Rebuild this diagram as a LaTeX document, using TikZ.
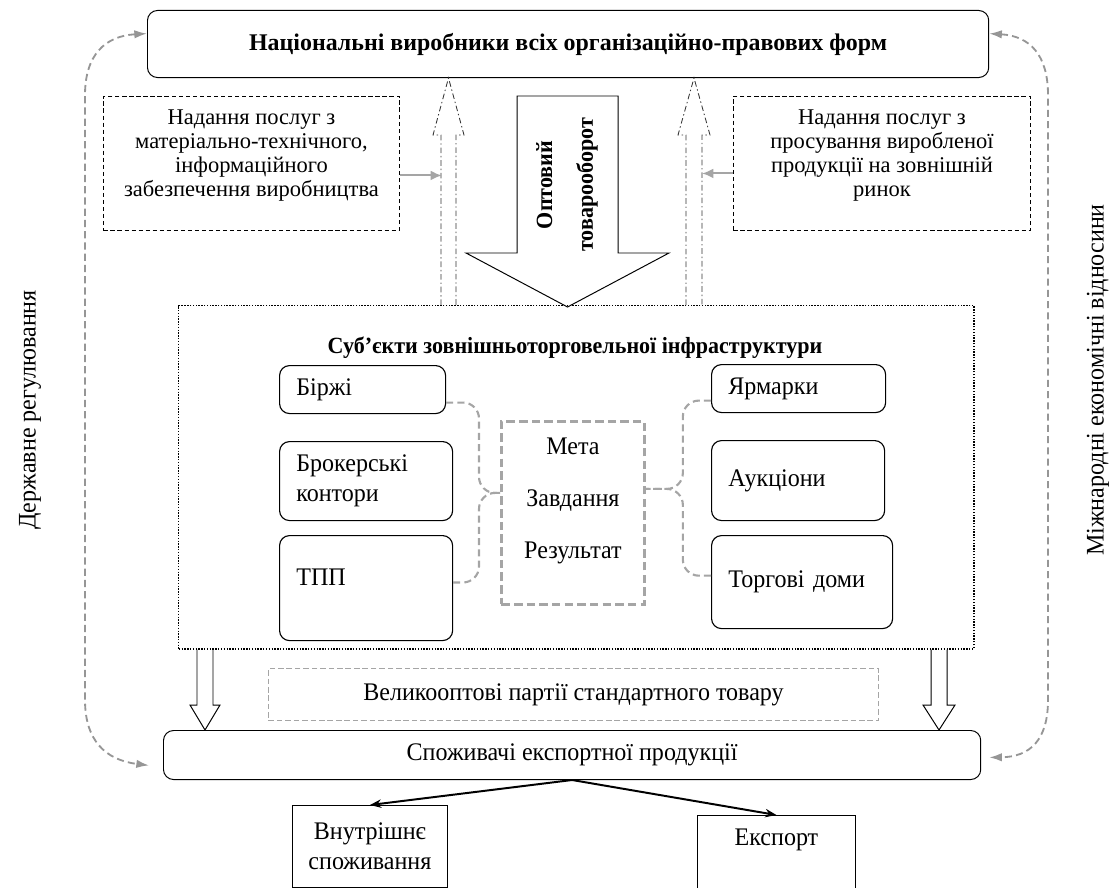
\documentclass[tikz,border=0pt]{standalone}
\usepackage{fontspec}
\setmainfont{Liberation Serif}
\newfontfamily\narrowfont[FakeStretch=0.95]{Liberation Serif}
\usetikzlibrary{arrows.meta}
\definecolor{linkgrey}{RGB}{165,165,165}
\definecolor{sidegrey}{RGB}{150,150,150}
\newcommand{\cellfont}{\narrowfont\fontsize{18}{21}\selectfont}
\tikzstyle{frame} = [rectangle, rounded corners=0.25cm, draw=black, line width=0.7pt, inner sep=0pt, anchor=north west]
\tikzstyle{service} = [rectangle, draw=black, dash pattern=on 3pt off 2pt, line width=0.6pt, anchor=north west, align=center, inner sep=0pt, font=\fontsize{16}{17}\selectfont]
\tikzstyle{entity} = [rectangle, rounded corners=0.25cm, draw=black, line width=0.8pt, anchor=north west, align=left, inner xsep=0.42cm, inner ysep=0pt, font=\cellfont]
\tikzstyle{plainbox} = [rectangle, draw=black, line width=0.6pt, anchor=north west, align=center, inner sep=0pt, font=\cellfont]
\tikzstyle{link} = [draw=linkgrey, line width=1.5pt, dash pattern=on 5pt off 3pt, rounded corners=0.4cm]
\tikzstyle{dashdot} = [draw=black!80, line width=0.6pt, dash pattern=on 4pt off 2pt on 1pt off 2pt]
\tikzstyle{hollow} = [draw=black, line width=0.7pt]
\tikzstyle{greyarrow} = [draw=linkgrey, line width=1.5pt, -{Latex[length=8pt,width=7pt]}]
\tikzstyle{sidearc} = [draw=sidegrey, line width=1.3pt, dash pattern=on 5pt off 3pt, {Latex[length=9pt,width=6pt]}-{Latex[length=9pt,width=6pt]}]
\tikzstyle{arrow} = [line width=1.4pt, -{Stealth[length=8pt,width=6pt]}]

\begin{document}
\begin{tikzpicture}[x=0.025cm, y=-0.025cm]
\useasboundingbox (0,0) rectangle (1115,887);
\clip (0,0) rectangle (1115,887);

% producers and services
\node (ntop) [frame, minimum width=21.025cm, minimum height=1.675cm, font=\bfseries\fontsize{17}{20}\selectfont] at (147,10) {Національні виробники всіх організаційно-правових форм};
\node (lserv) [service, minimum width=7.4cm, minimum height=3.35cm] at (103,96) {Надання послуг з\\матеріально-технічного,\\інформаційного\\забезпечення виробництва\\[-2pt]\mbox{}};
\node (rserv) [service, minimum width=7.425cm, minimum height=3.35cm] at (733,96) {Надання послуг з\\просування виробленої\\продукції на зовнішній\\ринок\\[-2pt]\mbox{}};

% wholesale turnover
\draw[hollow] (517,96) -- (618,96) -- (618,253) -- (669,253) -- (567.5,307) -- (466,253) -- (517,253) -- cycle;
\node (flow) [rotate=90, align=center, font=\narrowfont\bfseries\fontsize{16.5}{29}\selectfont] at (567,185) {Оптовий\\товарооборот};

% infrastructure
\node (infra) [rectangle, draw=black, line width=1pt, dash pattern=on 1pt off 1pt, minimum width=19.875cm, minimum height=8.575cm, anchor=north west, inner sep=0pt] at (178,305) {};
\node (infratitle) [font=\narrowfont\bfseries\fontsize{16.5}{19}\selectfont] at (575,348) {Суб’єкти зовнішньоторговельної інфраструктури};

\draw[dashdot] (441,0 |- infra.north) -- (441,135) -- (433,135) -- (448.5,0 |- ntop.south) -- (464,135) -- (456,135) -- (456,0 |- infra.north);
\draw[dashdot] (686,0 |- infra.north) -- (686,135) -- (678,135) -- (694,0 |- ntop.south) -- (710,135) -- (702,135) -- (702,0 |- infra.north);
\draw[greyarrow] ([yshift=-0.3cm]lserv.east) -- ++(42,0);
\draw[greyarrow] ([yshift=-0.25cm]rserv.west) -- ++(-31,0);

\node (birzhi) [entity, text width=3.31cm, minimum height=1.2cm] at (279,365) {Біржі};
\node (broker) [entity, text width=3.485cm, minimum height=1.975cm] at (279,441) {Брокерські\\контори};
\node (tpp) [entity, text width=3.485cm, minimum height=2.625cm] at (279,535) {ТПП\\[-5pt]\mbox{}};
\node (yarm) [entity, text width=3.51cm, minimum height=1.2cm] at (711,364) {Ярмарки};
\node (auk) [entity, text width=3.485cm, minimum height=2cm] at (711,440) {Аукціони};
\node (torg) [entity, text width=3.685cm, minimum height=2.325cm] at (711,535) {Торгові доми};

\node (goal) [rectangle, draw=linkgrey, line width=2pt, dash pattern=on 6pt off 3pt, minimum width=3.575cm, minimum height=4.575cm, anchor=north west, align=center, inner sep=0pt, font=\narrowfont\fontsize{18}{37}\selectfont] at (500,420) {Мета\\Завдання\\Результат\\[-16pt]\mbox{}};

\draw[link] ([yshift=-0.325cm]birzhi.east) -| ([xshift=-0.525cm,yshift=0.5cm]goal.west) -- ([yshift=0.5cm]goal.west);
\draw[link] ([yshift=0.14cm]tpp.east) -| ([xshift=-0.525cm,yshift=0.5cm]goal.west) -- ([yshift=0.5cm]goal.west);
\draw[link] ([yshift=-0.3cm]yarm.west) -| ([xshift=0.925cm,yshift=0.6cm]goal.east) -- ([yshift=0.6cm]goal.east);
\draw[link] ([yshift=0.16cm]torg.west) -| ([xshift=0.925cm,yshift=0.6cm]goal.east) -- ([yshift=0.6cm]goal.east);

% consumers
\node (bulk) [rectangle, draw=linkgrey, line width=0.6pt, dash pattern=on 4pt off 2pt, minimum width=15.25cm, minimum height=1.3cm, anchor=north west, inner sep=0pt, font=\cellfont] at (268,668) {Великооптові партії стандартного товару};
\node (cons) [frame, minimum width=20.425cm, minimum height=1.225cm, font=\cellfont] at (163,730) {Споживачі експортної продукції};

\draw[hollow] (197,0 |- infra.south) -- (197,705) -- (190,705) -- (205,0 |- cons.north) -- (220,705) -- (213,705) -- (213,0 |- infra.south);
\draw[hollow] (931,0 |- infra.south) -- (931,705) -- (923,705) -- (939,0 |- cons.north) -- (955,705) -- (947,705) -- (947,0 |- infra.south);

\node (dom) [plainbox, minimum width=3.875cm, minimum height=2.05cm] at (292,805) {Внутрішнє\\споживання};
\node (exp) [plainbox, minimum width=3.95cm, minimum height=1.85cm] at (697,815) {Експорт\\[0pt]\mbox{}};

\draw[arrow] (cons.south) -- (dom.north);
\draw[arrow] (cons.south) -- (exp.north);

% regulation on both sides
\draw[sidearc] ([yshift=0.26cm]ntop.west) .. controls (105,36) and (85,55) .. (85,95) -- (85,700) .. controls (85,740) and (105,760) .. ([xshift=-0.35cm,yshift=-0.26cm]cons.west);
\draw[sidearc] ([yshift=0.26cm]ntop.east) .. controls (1030,36) and (1048,55) .. (1048,95) -- (1048,700) .. controls (1048,740) and (1030,757) .. ([xshift=0.2cm,yshift=-0.06cm]cons.east);
\node (govreg) [rotate=90, font=\cellfont] at (30,410) {Державне регулювання};
\node (intrel) [rotate=90, font=\cellfont] at (1098,380) {Міжнародні економічні відносини};
\end{tikzpicture}
\end{document}
